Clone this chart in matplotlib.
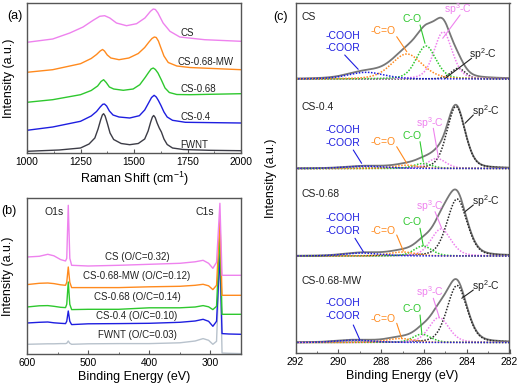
import numpy as np
import matplotlib
matplotlib.use('Agg')
import matplotlib.pyplot as plt
from matplotlib.ticker import MultipleLocator

plt.rcParams['font.family'] = ['Liberation Sans', 'DejaVu Sans']
plt.rcParams['mathtext.default'] = 'regular'

# ---------------- (a) Raman spectra (stacked, arbitrary units)
raman_names = ['FWNT', 'CS-0.4', 'CS-0.68', 'CS-0.68-MW', 'CS']

fwnt_raman_x = [1000, 1150, 1250, 1290, 1317, 1332, 1344, 1352, 1358, 1365, 1375, 1388, 1405, 1440,
                1480, 1520, 1550, 1566, 1578, 1586, 1592, 1599, 1608, 1618, 1628, 1640, 1655, 1680,
                1730, 1850, 2000]
fwnt_raman_y = [1.7, 3.0, 5.0, 9.0, 15, 24, 33, 38, 39.3, 37, 30, 20, 13.5, 9.5,
                8.3, 9.5, 14, 22, 31, 36, 37.5, 35.5, 30, 25, 21, 14, 8.5, 5,
                3.5, 2.7, 2.3]
cs04_raman_x = [1000, 1120, 1250, 1300, 1325, 1342, 1354, 1362, 1372, 1385, 1402, 1430, 1480, 1525,
                1550, 1568, 1582, 1594, 1604, 1614, 1626, 1640, 1655, 1680, 1740, 2000]
cs04_raman_y = [22.7, 26, 31.7, 37, 41.5, 46, 48.7, 49, 47, 42, 38, 36, 35, 37.3,
                43, 50, 55.5, 57.7, 56, 52.5, 47.5, 41, 36, 32.7, 30.7, 30]
cs068_raman_x = [1000, 1120, 1250, 1300, 1330, 1346, 1358, 1370, 1385, 1405, 1450, 1496, 1527, 1552,
                 1568, 1580, 1590, 1600, 1612, 1628, 1645, 1665, 1700, 1760, 2000]
cs068_raman_y = [50.7, 53.3, 58.3, 62.5, 67, 71.5, 73.3, 70.5, 66, 64, 62.7, 64, 68.3, 75.5,
                 80.5, 84, 85, 83.5, 80, 73, 65, 60.5, 58.5, 58.3, 59.3]
mw_raman_x = [1000, 1120, 1250, 1300, 1325, 1342, 1353, 1362, 1375, 1392, 1430, 1476, 1520, 1550,
              1570, 1584, 1595, 1604, 1614, 1626, 1640, 1660, 1700, 1760, 2000]
mw_raman_y = [80.7, 83.3, 89.3, 94.5, 98.5, 102, 103.5, 102, 98, 95, 93.3, 95, 99.5, 105.5,
              111, 114.5, 116, 115.5, 112, 105, 97, 90.5, 87, 85.5, 83.3]
cs_raman_x = [1000, 1120, 1200, 1262, 1309, 1340, 1363, 1387, 1418, 1465, 1512, 1551, 1577, 1590,
              1600, 1612, 1636, 1668, 1714, 1830, 2000]
cs_raman_y = [110.7, 114, 120, 126, 132.7, 136.7, 137.3, 135, 130, 127.3, 129.3, 135, 141.7, 144,
              143.5, 140, 130, 121.7, 116, 113.3, 111.7]
raman_label_y = [7.5, 35.5, 64, 91, 120]

# ---------------- (b) XPS survey (stacked, arbitrary units)
survey_names = ['FWNT (O/C=0.03)', 'CS-0.4 (O/C=0.10)', 'CS-0.68 (O/C=0.14)',
                'CS-0.68-MW (O/C=0.12)', 'CS (O/C=0.32)']
survey_be = [600, 580, 566, 556, 545, 537, 535, 532.5, 530, 527, 500, 450, 400, 350, 325, 312,
             303, 296, 290, 284.5, 281, 270, 250]
fwnt_survey = [10, 10.3, 10.5, 10.5, 10.7, 10.7, 11, 13.3, 11, 10, 10.5, 10.7, 10.7, 11.5, 13.3, 15.7,
               14, 10, 13, 100, 1.3, 1, 0.7]
cs04_survey = [31.3, 32, 32.3, 31.5, 31, 30.7, 33, 43.3, 33, 29.7, 30.5, 30.7, 31, 32, 33.3, 35,
               33, 28, 33, 100, 20.7, 20.3, 20]
cs068_survey = [47.3, 48.5, 48.7, 48, 47, 46.7, 50, 72.3, 50, 44.7, 45, 45, 46.5, 46.5, 47.3, 48.7,
                47.5, 44.7, 48, 120, 40, 40, 40]
mw_survey = [69.7, 71, 71.3, 70.7, 69.5, 69, 72, 87.3, 72, 66.7, 66.7, 66.7, 67.5, 68, 69, 70,
             68.5, 64.7, 69, 135, 59, 59, 59]
cs_survey = [97.3, 98, 100, 98.5, 94.7, 93.3, 96, 149, 96, 89, 88.3, 89, 90, 91, 92.5, 94,
             91, 86, 92, 151, 79, 79, 79]
survey_label_y = [19.5, 38, 57, 78, 97]

# ---------------- (c) C1s fitted components: position (eV), height, FWHM (eV)
c1s_names = ['CS', 'CS-0.4', 'CS-0.68', 'CS-0.68-MW']
sp2_pos = [284.4, 284.5, 284.45, 284.45]
sp2_height = [10.7, 62, 57, 57]
sp2_fwhm = [0.8, 1.0, 1.1, 1.1]
sp3_pos = [285.1, 285.4, 285.2, 285.3]
sp3_height = [47, 10, 27, 25]
sp3_fwhm = [1.0, 1.0, 1.1, 1.1]
co_pos = [285.9, 286.05, 286.05, 286.1]
co_height = [33, 5, 10, 8.3]
co_fwhm = [1.1, 1.0, 1.0, 1.0]
cdo_pos = [286.8, 286.8, 287.0, 287.1]
cdo_height = [25, 3.3, 4, 4]
cdo_fwhm = [1.7, 1.4, 1.5, 1.5]
cooh_pos = [288.7, 288.7, 288.85, 289.2]
cooh_height = [6.7, 2.3, 3, 2.3]
cooh_fwhm = [2.0, 2.2, 2.0, 2.0]


def peak(x, pos, height, fwhm, eta=0.3):
    # pseudo-Voigt line shape used for the fitted components
    u = (x - pos) / fwhm
    return height * ((1 - eta) * np.exp(-4 * np.log(2) * u ** 2) + eta / (1 + 4 * u ** 2))


col_cs = '#ee82ee'
col_mw = '#ff8a1e'
col_068 = '#2ec82e'
col_04 = '#1e1ee0'
spine_col = '#555555'

fig = plt.figure(figsize=(5.21, 3.84), dpi=100)
W, H = 521.0, 384.0


def px_axes(left, top, right, bottom):
    return fig.add_axes([left / W, 1 - bottom / H, (right - left) / W, (bottom - top) / H])


def style(ax):
    for s in ax.spines.values():
        s.set_color(spine_col)
        s.set_linewidth(1.0)
    ax.tick_params(which='both', direction='in', labelsize=7.4, pad=3, color=spine_col)
    ax.tick_params(which='major', length=3)
    ax.tick_params(which='minor', length=1.8)
    ax.set_yticks([])


# ---- (a)
axa = px_axes(27, 2.7, 241, 153)
style(axa)
raman_x = [fwnt_raman_x, cs04_raman_x, cs068_raman_x, mw_raman_x, cs_raman_x]
raman_y = [fwnt_raman_y, cs04_raman_y, cs068_raman_y, mw_raman_y, cs_raman_y]
raman_cols = ['#3c3c46', col_04, col_068, col_mw, col_cs]
for name, xx, yy, c, ly in zip(raman_names, raman_x, raman_y, raman_cols, raman_label_y):
    axa.plot(xx, yy, color=c, lw=1.0)
    axa.text(1705 if name == 'CS-0.68-MW' else 1715, ly, name, fontsize=7, va='center', ha='left',
             color='#222222')
axa.set_xlim(1000, 2000)
axa.set_ylim(0, 150.3)
axa.xaxis.set_major_locator(MultipleLocator(250))
axa.xaxis.set_minor_locator(MultipleLocator(125))
axa.set_xlabel('Raman Shift (cm$^{-1}$)', fontsize=9, labelpad=2)
axa.set_ylabel('Intensity (a.u.)', fontsize=9)
axa.yaxis.set_label_coords(-0.058, 0.5)

# ---- (b)
axb = px_axes(27, 198.3, 241, 354.3)
style(axb)
survey_y = [fwnt_survey, cs04_survey, cs068_survey, mw_survey, cs_survey]
survey_cols = ['#b8c2cc', col_04, col_068, col_mw, col_cs]
for name, yy, c, ly in zip(survey_names, survey_y, survey_cols, survey_label_y):
    axb.plot(survey_be, yy, color=c, lw=1.0)
    axb.text(420, ly, name, fontsize=7, ha='center', va='center', color='#222222')
axb.text(556, 142, 'O1s', fontsize=7.5, ha='center', va='center', color='#222222')
axb.text(310, 142, 'C1s', fontsize=7.5, ha='center', va='center', color='#222222')
axb.set_xlim(600, 250)
axb.set_ylim(0, 156)
axb.set_xticks([600, 500, 400, 300])
axb.set_xticks([550, 450, 350, 250], minor=True)
axb.set_xlabel('Binding Energy (eV)', fontsize=9, labelpad=2)
axb.set_ylabel('Intensity (a.u.)', fontsize=9)
axb.yaxis.set_label_coords(-0.062, 0.5)

# ---- (c)
axc = px_axes(295.5, 2.7, 509.5, 353.3)
style(axc)
offsets = [274.3, 184.8, 97.3, 10.8]
be = np.linspace(282, 292, 500)
comp_cols = ['#2a2a2a', col_cs, col_068, col_mw, col_04]
for i, name in enumerate(c1s_names):
    comps = [peak(be, sp2_pos[i], sp2_height[i], sp2_fwhm[i]),
             peak(be, sp3_pos[i], sp3_height[i], sp3_fwhm[i]),
             peak(be, co_pos[i], co_height[i], co_fwhm[i]),
             peak(be, cdo_pos[i], cdo_height[i], cdo_fwhm[i]),
             peak(be, cooh_pos[i], cooh_height[i], cooh_fwhm[i])]
    off = offsets[i]
    axc.plot(be, off + np.sum(comps, axis=0), color='#777777', lw=1.3)
    for comp, c in zip(comps, comp_cols):
        axc.plot(be, off + comp, color=c, lw=1.1, ls=(0, (1, 1)))
    axc.text(291.7, off + 62, name, fontsize=7.5, ha='left', va='center', color='#222222')

# label positions (text x per panel, text y per panel) and leader lines (start, end)
labels_x = {
    'sp2': [283.26, 283.12, 283.12, 283.12],
    'sp3': [284.43, 285.74, 285.74, 285.74],
    'co': [286.53] * 4,
    'cdo': [287.9] * 4,
    'cooh': [290.62] * 4,
}
labels_y = {
    'sp2': [299.3, 242.3, 152.3, 67.3],
    'sp3': [344.3, 230.3, 147.3, 61.3],
    'co': [334.3, 217.3, 131.3, 44.3],
    'cdo': [322.3, 211.3, 122.3, 34.3],
    'cooh': [311.3, 216.8, 128.8, 43.8],
}
leaders = {
    'sp2': [((283.77, 295), (285.0, 275)), ((283.69, 238.3), (284.08, 230)),
            ((283.69, 148.3), (284.08, 141.6)), ((283.69, 63.3), (284.23, 55))],
    'sp3': [((284.31, 338.3), (285.12, 315)), ((285.56, 225), (285.33, 196.6)),
            ((285.48, 141.6), (285.17, 125)), ((285.56, 55), (285.28, 35.6))],
    'co': [((286.18, 328.3), (285.95, 310)), ((286.18, 211.6), (286.03, 191.6)),
           ((286.18, 125), (286.03, 107.6)), ((286.18, 38.3), (286.1, 20))],
    'cdo': [((287.27, 316.6), (286.8, 301.6)), ((287.27, 206.6), (286.8, 190)),
            ((287.27, 118.3), (286.96, 102.3)), ((287.27, 30), (287.04, 15))],
    'cooh': [((289.7, 298.3), (289.07, 284)), ((289.3, 203.3), (288.91, 190)),
             ((289.22, 115), (288.83, 101.6)), ((289.3, 28.3), (288.99, 13.3))],
}
label_text = {'sp2': ('sp$^2$-C', 'center', '#222222'),
              'sp3': ('sp$^3$-C', 'center', col_cs),
              'co': ('C-O', 'center', col_068),
              'cdo': ('-C=O', 'center', col_mw),
              'cooh': ('-COOH\n-COOR', 'left', col_04)}
for key, (txt, ha, c) in label_text.items():
    for i in range(4):
        axc.text(labels_x[key][i], labels_y[key][i], txt, fontsize=7.5, ha=ha, va='center',
                 color=c, linespacing=1.35)
        (x0, y0), (x1, y1) = leaders[key][i]
        axc.annotate('', xy=(x1, y1), xytext=(x0, y0),
                     arrowprops=dict(arrowstyle='-', color=c, lw=0.8, shrinkA=0, shrinkB=0))

axc.set_xlim(292, 282)
axc.set_ylim(0, 350.6)
axc.xaxis.set_major_locator(MultipleLocator(2))
axc.xaxis.set_minor_locator(MultipleLocator(1))
axc.set_xlabel('Binding Energy (eV)', fontsize=9, labelpad=2)
axc.set_ylabel('Intensity (a.u.)', fontsize=9)
axc.yaxis.set_label_coords(-0.085, 0.5)

fig.text(14.5 / W, 1 - 16 / H, '(a)', fontsize=9, ha='center', va='center')
fig.text(9 / W, 1 - 211 / H, '(b)', fontsize=9, ha='center', va='center')
fig.text(280 / W, 1 - 17 / H, '(c)', fontsize=9, ha='center', va='center')

fig.savefig('out.png', dpi=100)
